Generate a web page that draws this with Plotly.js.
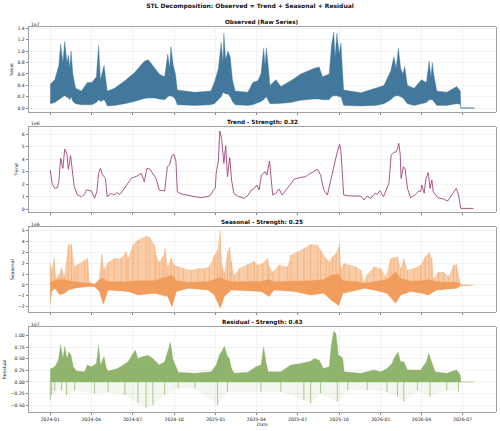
<!DOCTYPE html>
<html><head><meta charset="utf-8">
<script src="https://cdn.plot.ly/plotly-3.0.1.min.js"></script>
<style>html,body{margin:0;padding:0;background:#fff}#chart{width:500px;height:431px}</style>
</head><body><div id="chart"></div>
<script>
// ---------- DATA ----------
const xTickVals = ['2024-01-01','2024-04-01','2024-07-01','2024-10-01','2025-01-01','2025-04-01','2025-07-01','2025-10-01','2026-01-01','2026-04-01','2026-07-01'];
const xTickText = ['2024-01','2024-04','2024-07','2024-10','2025-01','2025-04','2025-07','2025-10','2026-01','2026-04','2026-07'];

// Observed: envelope (upper / lower) of the dense hourly series
const obsDates = ['2024-01-01','2024-01-11','2024-01-20','2024-01-24','2024-01-29','2024-02-02','2024-02-07','2024-02-10','2024-02-13','2024-02-16','2024-02-20','2024-02-26','2024-03-10','2024-03-23','2024-04-02','2024-04-12','2024-04-17','2024-04-21','2024-04-29','2024-05-03','2024-05-06','2024-05-22','2024-06-14','2024-07-05','2024-07-27','2024-08-05','2024-08-19','2024-08-29','2024-09-10','2024-09-17','2024-09-21','2024-09-24','2024-09-29','2024-10-04','2024-10-08','2024-11-16','2024-12-21','2024-12-29','2025-01-07','2025-01-13','2025-01-17','2025-01-19','2025-01-23','2025-01-28','2025-02-02','2025-02-07','2025-02-13','2025-03-13','2025-03-24','2025-04-04','2025-04-11','2025-04-17','2025-04-20','2025-04-23','2025-04-27','2025-05-01','2025-05-14','2025-05-25','2025-06-16','2025-07-08','2025-08-07','2025-08-18','2025-08-25','2025-09-09','2025-09-14','2025-09-19','2025-09-22','2025-09-26','2025-10-01','2025-10-05','2025-10-08','2025-10-11','2025-11-18','2025-12-21','2026-01-08','2026-01-23','2026-01-30','2026-02-04','2026-02-09','2026-02-14','2026-02-19','2026-02-23','2026-03-01','2026-03-16','2026-04-01','2026-04-12','2026-04-18','2026-04-22','2026-04-25','2026-04-28','2026-05-05','2026-05-27','2026-06-18','2026-06-26','2026-06-27','2026-07-27'];
const obsUpper = [0.42e7,0.5e7,0.75e7,1.12e7,0.8e7,1.17e7,0.8e7,0.93e7,0.7e7,1.0e7,0.6e7,0.35e7,0.3e7,0.45e7,0.45e7,0.55e7,1.1e7,0.5e7,0.75e7,0.5e7,0.3e7,0.35e7,0.48e7,0.62e7,0.82e7,0.85e7,0.7e7,0.6e7,0.55e7,0.95e7,0.7e7,1.08e7,0.75e7,0.6e7,0.32e7,0.28e7,0.3e7,0.45e7,0.7e7,1.15e7,0.8e7,1.31e7,0.85e7,1.0e7,0.9e7,0.5e7,0.3e7,0.28e7,0.45e7,0.48e7,0.6e7,1.05e7,0.75e7,1.06e7,0.75e7,0.4e7,0.5e7,0.38e7,0.48e7,0.6e7,0.7e7,0.72e7,0.55e7,0.6e7,1.1e7,1.33e7,0.9e7,1.31e7,0.95e7,1.14e7,0.7e7,0.32e7,0.27e7,0.35e7,0.4e7,0.65e7,0.9e7,0.7e7,1.05e7,0.7e7,0.6e7,0.73e7,0.4e7,0.35e7,0.5e7,0.45e7,0.82e7,0.55e7,0.8e7,0.6e7,0.3e7,0.28e7,0.38e7,0.3e7,0.008e7,0.008e7];
const obsLower = [0.08e7,0.1e7,0.15e7,0.18e7,0.2e7,0.22e7,0.2e7,0.18e7,0.15e7,0.2e7,0.12e7,0.08e7,0.06e7,0.06e7,0.06e7,0.1e7,0.15e7,0.12e7,0.15e7,0.1e7,0.04e7,0.05e7,0.08e7,0.12e7,0.17e7,0.18e7,0.18e7,0.16e7,0.15e7,0.2e7,0.22e7,0.22e7,0.2e7,0.15e7,0.06e7,0.05e7,0.06e7,0.08e7,0.15e7,0.2e7,0.27e7,0.27e7,0.25e7,0.25e7,0.2e7,0.12e7,0.06e7,0.05e7,0.06e7,0.1e7,0.12e7,0.15e7,0.18e7,0.2e7,0.15e7,0.08e7,0.08e7,0.08e7,0.1e7,0.14e7,0.16e7,0.16e7,0.15e7,0.15e7,0.2e7,0.22e7,0.22e7,0.22e7,0.2e7,0.2e7,0.15e7,0.05e7,0.04e7,0.05e7,0.08e7,0.15e7,0.2e7,0.22e7,0.22e7,0.2e7,0.18e7,0.15e7,0.08e7,0.05e7,0.08e7,0.1e7,0.15e7,0.15e7,0.15e7,0.12e7,0.05e7,0.05e7,0.08e7,0.07e7,0.0,0.0];

// Trend
const trendDates = ['2024-01-01','2024-01-05','2024-01-11','2024-01-17','2024-01-20','2024-01-24','2024-01-29','2024-02-02','2024-02-07','2024-02-10','2024-02-15','2024-02-19','2024-02-23','2024-03-01','2024-03-10','2024-03-17','2024-03-21','2024-04-01','2024-04-08','2024-04-13','2024-04-17','2024-04-21','2024-04-25','2024-05-02','2024-05-06','2024-05-15','2024-05-21','2024-05-27','2024-06-03','2024-06-14','2024-06-28','2024-07-13','2024-07-20','2024-07-27','2024-08-02','2024-08-08','2024-08-15','2024-08-22','2024-08-29','2024-09-10','2024-09-16','2024-09-21','2024-09-26','2024-10-01','2024-10-05','2024-10-08','2024-10-17','2024-11-01','2024-11-16','2024-11-30','2024-12-19','2024-12-27','2024-12-31','2025-01-02','2025-01-07','2025-01-10','2025-01-14','2025-01-19','2025-01-23','2025-01-27','2025-02-01','2025-02-05','2025-02-10','2025-02-19','2025-03-05','2025-03-14','2025-03-21','2025-03-27','2025-04-02','2025-04-07','2025-04-12','2025-04-20','2025-04-24','2025-04-30','2025-05-03','2025-05-07','2025-05-14','2025-05-21','2025-05-28','2025-06-09','2025-06-24','2025-07-08','2025-07-19','2025-07-26','2025-08-05','2025-08-14','2025-08-21','2025-08-28','2025-09-05','2025-09-13','2025-09-20','2025-09-26','2025-10-02','2025-10-05','2025-10-11','2025-10-20','2025-11-03','2025-11-18','2025-11-25','2025-12-02','2025-12-10','2025-12-19','2025-12-24','2025-12-30','2026-01-07','2026-01-19','2026-01-24','2026-01-30','2026-02-05','2026-02-10','2026-02-13','2026-02-15','2026-02-20','2026-02-24','2026-03-01','2026-03-08','2026-03-19','2026-03-26','2026-03-30','2026-04-02','2026-04-07','2026-04-11','2026-04-16','2026-04-20','2026-04-24','2026-04-27','2026-05-07','2026-05-20','2026-05-29','2026-06-07','2026-06-17','2026-06-22','2026-06-27','2026-07-25'];
const trendValues = [3.13e6,2.06e6,1.66e6,1.71e6,2.2e6,4.07e6,3.27e6,4.82e6,4.39e6,3.19e6,4.29e6,3.0e6,1.8e6,1.13e6,0.99e6,1.18e6,1.53e6,1.45e6,0.86e6,1.39e6,2.87e6,3.27e6,2.79e6,2.46e6,0.99e6,1.26e6,1.13e6,1.31e6,1.18e6,1.71e6,2.46e6,2.68e6,2.87e6,2.2e6,3.27e6,3.21e6,2.87e6,2.46e6,1.53e6,1.45e6,3.4e6,3.54e6,4.29e6,4.39e6,3.8e6,1.39e6,1.21e6,1.13e6,0.99e6,0.91e6,1.04e6,1.53e6,1.66e6,2.87e6,3.94e6,6.27e6,5.68e6,3.67e6,5.09e6,2.6e6,4.13e6,2.33e6,1.26e6,1.04e6,0.86e6,1.13e6,1.53e6,1.66e6,1.93e6,1.53e6,2.73e6,3.0e6,2.73e6,3.86e6,2.73e6,1.13e6,1.26e6,1.61e6,1.13e6,1.66e6,2.41e6,2.54e6,2.6e6,2.79e6,3.0e6,3.19e6,2.73e6,1.53e6,1.13e6,2.46e6,3.75e6,4.47e6,5.2e6,4.61e6,1.13e6,1.07e6,1.04e6,1.04e6,0.72e6,1.04e6,0.86e6,1.26e6,1.18e6,1.47e6,0.99e6,2.06e6,4.34e6,4.55e6,4.61e6,5.28e6,4.39e6,2.46e6,3.4e6,3.21e6,1.66e6,0.91e6,1.18e6,1.45e6,1.39e6,1.93e6,1.26e6,2.46e6,2.92e6,1.66e6,2.33e6,1.39e6,0.91e6,0.8e6,0.64e6,1.13e6,1.66e6,1.13e6,0.05e6,0.05e6];

// Seasonal: spike tops, bottom envelope and dense core top
const seasUpDates = ['2024-01-01','2024-01-04','2024-01-10','2024-01-14','2024-01-19','2024-01-26','2024-02-01','2024-02-10','2024-02-17','2024-02-24','2024-03-02','2024-03-17','2024-03-24','2024-03-28','2024-04-05','2024-04-16','2024-04-24','2024-04-29','2024-05-08','2024-05-22','2024-06-06','2024-06-17','2024-06-21','2024-07-02','2024-07-13','2024-07-31','2024-08-08','2024-08-19','2024-08-22','2024-08-29','2024-09-06','2024-09-11','2024-09-17','2024-09-24','2024-10-01','2024-10-10','2024-10-21','2024-11-08','2024-11-23','2024-12-07','2024-12-18','2024-12-29','2025-01-05','2025-01-11','2025-01-15','2025-01-20','2025-01-27','2025-02-01','2025-02-05','2025-02-11','2025-02-22','2025-03-13','2025-03-27','2025-04-04','2025-04-15','2025-04-26','2025-04-29','2025-05-07','2025-05-21','2025-06-09','2025-06-16','2025-07-01','2025-07-15','2025-07-30','2025-08-14','2025-08-21','2025-09-02','2025-09-09','2025-09-16','2025-09-24','2025-10-02','2025-10-05','2025-10-12','2025-10-23','2025-11-07','2025-11-18','2025-11-25','2025-12-01','2025-12-17','2026-01-01','2026-01-12','2026-01-23','2026-01-30','2026-02-07','2026-02-14','2026-02-21','2026-03-01','2026-03-16','2026-03-30','2026-04-09','2026-04-18','2026-04-24','2026-04-28','2026-05-09','2026-05-20','2026-05-31','2026-06-11','2026-06-18','2026-06-24','2026-06-27','2026-07-25'];
const seasUpper = [2.0e6,1.5e6,2.45e6,0.6e6,0.9e6,1.6e6,0.9e6,3.7e6,3.75e6,1.7e6,1.9e6,2.3e6,2.45e6,0.3e6,0.05e6,0.15e6,2.9e6,1.5e6,2.1e6,2.45e6,2.45e6,3.07e6,2.45e6,3.7e6,4.14e6,4.5e6,4.4e6,3.7e6,2.76e6,2.15e6,2.6e6,3.37e6,1.7e6,2.45e6,1.84e6,1.7e6,1.53e6,1.38e6,1.53e6,1.53e6,1.7e6,2.76e6,3.2e6,4.97e6,1.84e6,1.2e6,3.07e6,3.5e6,2.15e6,0.9e6,1.53e6,1.9e6,2.2e6,1.84e6,2.0e6,2.45e6,1.8e6,1.2e6,1.84e6,1.7e6,2.76e6,3.07e6,3.37e6,3.74e6,3.68e6,3.2e6,2.45e6,2.15e6,2.6e6,2.9e6,3.83e6,1.53e6,2.0e6,1.84e6,1.7e6,1.38e6,0.3e6,0.9e6,1.7e6,1.53e6,0.77e6,2.45e6,2.5e6,2.6e6,1.53e6,2.45e6,1.38e6,1.53e6,1.84e6,2.6e6,3.0e6,2.45e6,0.6e6,1.2e6,1.2e6,0.77e6,1.84e6,1.9e6,0.6e6,0.0,0.0];
const seasLoDates = ['2024-01-01','2024-01-04','2024-01-11','2024-01-22','2024-02-02','2024-02-10','2024-02-24','2024-03-24','2024-04-08','2024-04-19','2024-04-27','2024-05-08','2024-06-21','2024-07-13','2024-08-19','2024-09-17','2024-09-26','2024-10-06','2024-11-01','2024-12-15','2024-12-29','2025-01-11','2025-01-20','2025-02-04','2025-04-12','2025-04-29','2025-05-10','2025-06-24','2025-07-30','2025-08-28','2025-09-13','2025-09-30','2025-10-09','2025-11-11','2025-11-25','2025-12-17','2026-01-15','2026-02-03','2026-02-14','2026-03-08','2026-04-02','2026-04-16','2026-05-05','2026-06-18','2026-06-27','2026-07-25'];
const seasLower = [-1.84e6,-0.6e6,-0.3e6,-0.9e6,-0.77e6,-0.46e6,-0.3e6,-0.15e6,-0.15e6,-0.6e6,-1.78e6,-0.46e6,-0.6e6,-0.92e6,-0.77e6,-1.07e6,-2.0e6,-0.6e6,-0.3e6,-0.46e6,-0.92e6,-2.15e6,-1.07e6,-0.46e6,-0.6e6,-1.07e6,-0.46e6,-0.6e6,-0.92e6,-0.77e6,-1.38e6,-1.9e6,-0.77e6,-0.46e6,-0.3e6,-0.46e6,-0.77e6,-1.69e6,-0.92e6,-0.6e6,-0.77e6,-0.92e6,-0.46e6,-0.3e6,-0.06e6,0.0];
const seasCore = [0.3e6,0.3e6,0.4e6,0.5e6,0.5e6,0.4e6,0.3e6,0.15e6,0.1e6,0.5e6,0.6e6,0.3e6,0.3e6,0.4e6,0.4e6,0.8e6,0.9e6,0.4e6,0.25e6,0.3e6,0.5e6,0.7e6,0.5e6,0.3e6,0.35e6,0.5e6,0.3e6,0.35e6,0.4e6,0.5e6,0.9e6,1.0e6,0.4e6,0.3e6,0.15e6,0.3e6,0.5e6,1.2e6,0.6e6,0.35e6,0.4e6,0.5e6,0.3e6,0.25e6,0.0,0.0];

// Residual: positive band top, negative spike tips
const residUpDates = ['2024-01-01','2024-01-04','2024-01-11','2024-01-19','2024-01-24','2024-01-29','2024-02-02','2024-02-07','2024-02-11','2024-02-16','2024-02-21','2024-02-28','2024-03-17','2024-03-23','2024-04-01','2024-04-12','2024-04-17','2024-04-21','2024-04-29','2024-05-04','2024-05-08','2024-05-29','2024-06-21','2024-07-07','2024-07-13','2024-07-24','2024-08-04','2024-08-15','2024-08-29','2024-09-10','2024-09-17','2024-09-23','2024-09-28','2024-10-06','2024-10-10','2024-11-16','2024-12-22','2025-01-02','2025-01-09','2025-01-16','2025-01-20','2025-01-26','2025-01-31','2025-02-05','2025-02-11','2025-03-13','2025-03-31','2025-04-11','2025-04-17','2025-04-22','2025-04-27','2025-05-10','2025-05-25','2025-06-16','2025-07-08','2025-07-30','2025-08-07','2025-08-18','2025-08-27','2025-09-09','2025-09-14','2025-09-19','2025-09-24','2025-09-29','2025-10-05','2025-10-09','2025-10-12','2025-11-18','2025-12-17','2026-01-01','2026-01-15','2026-01-26','2026-01-30','2026-02-08','2026-02-14','2026-02-21','2026-03-01','2026-03-30','2026-04-12','2026-04-17','2026-04-24','2026-05-01','2026-05-27','2026-06-18','2026-06-26','2026-06-27','2026-07-25'];
const residUpper = [0.28e7,0.3e7,0.33e7,0.47e7,0.81e7,0.5e7,0.78e7,0.5e7,0.65e7,0.58e7,0.33e7,0.24e7,0.22e7,0.37e7,0.33e7,0.4e7,0.8e7,0.37e7,0.55e7,0.3e7,0.24e7,0.29e7,0.44e7,0.69e7,0.51e7,0.55e7,0.58e7,0.51e7,0.37e7,0.44e7,0.65e7,0.86e7,0.51e7,0.29e7,0.21e7,0.19e7,0.22e7,0.37e7,0.58e7,0.69e7,0.78e7,0.58e7,0.51e7,0.29e7,0.19e7,0.21e7,0.33e7,0.37e7,0.76e7,0.44e7,0.22e7,0.22e7,0.22e7,0.37e7,0.4e7,0.45e7,0.51e7,0.47e7,0.29e7,0.33e7,0.83e7,1.1e7,1.05e7,0.58e7,0.55e7,0.51e7,0.22e7,0.19e7,0.26e7,0.22e7,0.29e7,0.4e7,0.51e7,0.65e7,0.44e7,0.44e7,0.26e7,0.26e7,0.44e7,0.62e7,0.4e7,0.22e7,0.19e7,0.26e7,0.15e7,0.0,0.0];
const residLoDates = ['2024-01-01','2024-01-04','2024-01-11','2024-01-26','2024-02-06','2024-02-24','2024-04-08','2024-05-08','2024-06-14','2024-07-13','2024-07-31','2024-08-15','2024-09-10','2024-10-10','2024-11-16','2025-01-05','2025-01-27','2025-04-11','2025-05-25','2025-07-15','2025-07-30','2025-08-21','2025-09-27','2025-10-20','2025-12-02','2026-01-15','2026-02-07','2026-02-21','2026-03-23','2026-04-20','2026-05-27','2026-06-22','2026-06-27','2026-07-25'];
const residLower = [-0.39e7,-0.28e7,-0.2e7,-0.18e7,-0.28e7,-0.18e7,-0.25e7,-0.22e7,-0.28e7,-0.46e7,-0.56e7,-0.5e7,-0.28e7,-0.14e7,-0.14e7,-0.5e7,-0.21e7,-0.21e7,-0.21e7,-0.39e7,-0.46e7,-0.25e7,-0.43e7,-0.18e7,-0.18e7,-0.21e7,-0.32e7,-0.43e7,-0.18e7,-0.32e7,-0.18e7,-0.21e7,0.0,0.0];

// Tick labels
const obsTicks = [0,0.2e7,0.4e7,0.6e7,0.8e7,1.0e7,1.2e7,1.4e7];
const obsTickText = ['0.0','0.2','0.4','0.6','0.8','1.0','1.2','1.4'];
const trendTicks = [0,1e6,2e6,3e6,4e6,5e6,6e6];
const trendTickText = ['0','1','2','3','4','5','6'];
const seasTicks = [-2e6,-1e6,0,1e6,2e6,3e6,4e6,5e6];
const seasTickText = ['\u22122','\u22121','0','1','2','3','4','5'];
const residTicks = [-0.5e7,-0.25e7,0,0.25e7,0.5e7,0.75e7,1.0e7];
const residTickText = ['\u22120.50','\u22120.25','0.00','0.25','0.50','0.75','1.00'];

const panelTitles = ['Observed (Raw Series)','Trend - Strength: 0.32','Seasonal - Strength: 0.25','Residual - Strength: 0.43'];
const yTitles = ['Value','Trend','Seasonal','Residual'];
const offsets = ['1e7','1e6','1e6','1e7'];

// ---------- DRAWING ----------
const FONT = 'DejaVu Sans, Liberation Sans, sans-serif';
const W = 500, H = 431;
const xDom = [29/W, 495.6/W];
const panels = [[27,112],[127,212],[227,312],[327,412]];
const yDoms = panels.map(p => [1 - p[1]/H, 1 - p[0]/H]);
const X_RANGE = ['2023-11-15','2026-09-12'];

function band(xa, ya, xb, yb) {
  return {x: xa.concat(xb.slice().reverse()), y: ya.concat(yb.slice().reverse())};
}
function spikes(xs, ys) {
  const x = [], y = [];
  xs.forEach((d, i) => { x.push(d, d, null); y.push(0, ys[i], null); });
  return {x, y};
}

const traces = [];
// Observed
const ob = band(obsDates, obsUpper, obsDates, obsLower);
traces.push({x: ob.x, y: ob.y, type:'scatter', mode:'lines', fill:'toself', fillcolor:'#42789b',
  line:{color:'rgba(69,123,157,0.55)', width:0.7}, xaxis:'x', yaxis:'y', hoverinfo:'skip'});
// Trend
traces.push({x: trendDates, y: trendValues, type:'scatter', mode:'lines',
  line:{color:'#a2447c', width:0.9}, xaxis:'x2', yaxis:'y2'});
// Seasonal
const sb = band(seasUpDates, seasUpper, seasLoDates, seasLower);
traces.push({x: sb.x, y: sb.y, type:'scatter', mode:'lines', fill:'toself', fillcolor:'rgba(244,162,97,0.55)',
  line:{width:0, color:'rgba(0,0,0,0)'}, xaxis:'x3', yaxis:'y3', hoverinfo:'skip'});
const ss = spikes(seasUpDates, seasUpper);
traces.push({x: ss.x, y: ss.y, type:'scatter', mode:'lines', line:{color:'rgba(244,162,97,0.8)', width:0.7},
  xaxis:'x3', yaxis:'y3', hoverinfo:'skip'});
const sc = band(seasLoDates, seasCore, seasLoDates, seasLower);
traces.push({x: sc.x, y: sc.y, type:'scatter', mode:'lines', fill:'toself', fillcolor:'rgba(240,152,84,0.9)',
  line:{width:0.5, color:'rgba(240,152,84,0.6)'}, xaxis:'x3', yaxis:'y3', hoverinfo:'skip'});
// Residual
const zerosUp = residUpDates.map(() => 0);
const ru = band(residUpDates, residUpper, residUpDates, zerosUp);
traces.push({x: ru.x, y: ru.y, type:'scatter', mode:'lines', fill:'toself', fillcolor:'rgba(134,174,96,0.92)',
  line:{width:0.5, color:'rgba(134,174,96,0.6)'}, xaxis:'x4', yaxis:'y4', hoverinfo:'skip'});
const zerosLo = residLoDates.map(() => 0);
const rl = band(residLoDates, residLower, residLoDates, zerosLo);
traces.push({x: rl.x, y: rl.y, type:'scatter', mode:'lines', fill:'toself', fillcolor:'rgba(134,174,96,0.1)',
  line:{width:0, color:'rgba(0,0,0,0)'}, xaxis:'x4', yaxis:'y4', hoverinfo:'skip'});
const rs = spikes(residLoDates, residLower);
traces.push({x: rs.x, y: rs.y, type:'scatter', mode:'lines', line:{color:'rgba(134,174,96,0.75)', width:0.9},
  xaxis:'x4', yaxis:'y4', hoverinfo:'skip'});

const tickFont = {family: FONT, size: 4.6, color:'#222'};
function xAxis(i) {
  return {domain:xDom, anchor:'y'+(i>1?i:''), type:'date', range:X_RANGE,
    tickmode:'array', tickvals:xTickVals, ticktext:xTickText, showticklabels:i===4,
    ticks:'outside', ticklen:2.5, tickwidth:0.6, tickcolor:'#333',
    showgrid:true, gridcolor:'#ebebeb', gridwidth:0.6, zeroline:false,
    showline:true, mirror:true, linecolor:'#8a8a8a', linewidth:0.8, tickfont:tickFont,
    title: i===4 ? {text:'Date', font:{family:FONT,size:4.6,color:'#222'}, standoff:1} : undefined};
}
const yRanges = [[-0.065e7,1.42e7],[-0.24e6,6.59e6],[-2.49e6,5.34e6],[-0.65e7,1.19e7]];
const yTicks = [obsTicks, trendTicks, seasTicks, residTicks];
const yTickTexts = [obsTickText, trendTickText, seasTickText, residTickText];
function yAxis(i) {
  return {domain:yDoms[i-1], anchor:'x'+(i>1?i:''), range:yRanges[i-1],
    tickmode:'array', tickvals:yTicks[i-1], ticktext:yTickTexts[i-1],
    ticks:'outside', ticklen:2.5, tickwidth:0.6, tickcolor:'#333',
    showgrid:true, gridcolor:'#ebebeb', gridwidth:0.6, zeroline:false,
    showline:true, mirror:true, linecolor:'#8a8a8a', linewidth:0.8, tickfont:tickFont,
    title:{text:yTitles[i-1], font:{family:FONT,size:4.6,color:'#222'}, standoff:3}};
}

const annotations = [];
panels.forEach((p, k) => {
  annotations.push({xref:'paper', yref:'paper', x:(xDom[0]+xDom[1])/2, y:1-(p[0]-4.5)/H,
    xanchor:'center', yanchor:'middle', showarrow:false,
    text:'<b>'+panelTitles[k]+'</b>', font:{family:FONT, size:5.7, color:'#111'}});
  annotations.push({xref:'paper', yref:'paper', x:xDom[0], y:1-(p[0]-3)/H,
    xanchor:'left', yanchor:'middle', showarrow:false,
    text:offsets[k], font:{family:FONT, size:4.6, color:'#222'}});
});

const layout = {
  width:W, height:H, margin:{l:0,r:0,t:0,b:0,pad:0},
  paper_bgcolor:'#fff', plot_bgcolor:'#fff', showlegend:false,
  title:{text:'<b>STL Decomposition: Observed = Trend + Seasonal + Residual</b>',
    x:0.5, xanchor:'center', y:1-6/H, yanchor:'middle', yref:'paper',
    font:{family:FONT, size:6, color:'#111'}},
  annotations
};
for (let i = 1; i <= 4; i++) {
  layout['xaxis'+(i>1?i:'')] = xAxis(i);
  layout['yaxis'+(i>1?i:'')] = yAxis(i);
}
Plotly.newPlot('chart', traces, layout, {staticPlot:true, displayModeBar:false});
</script>
</body></html>
